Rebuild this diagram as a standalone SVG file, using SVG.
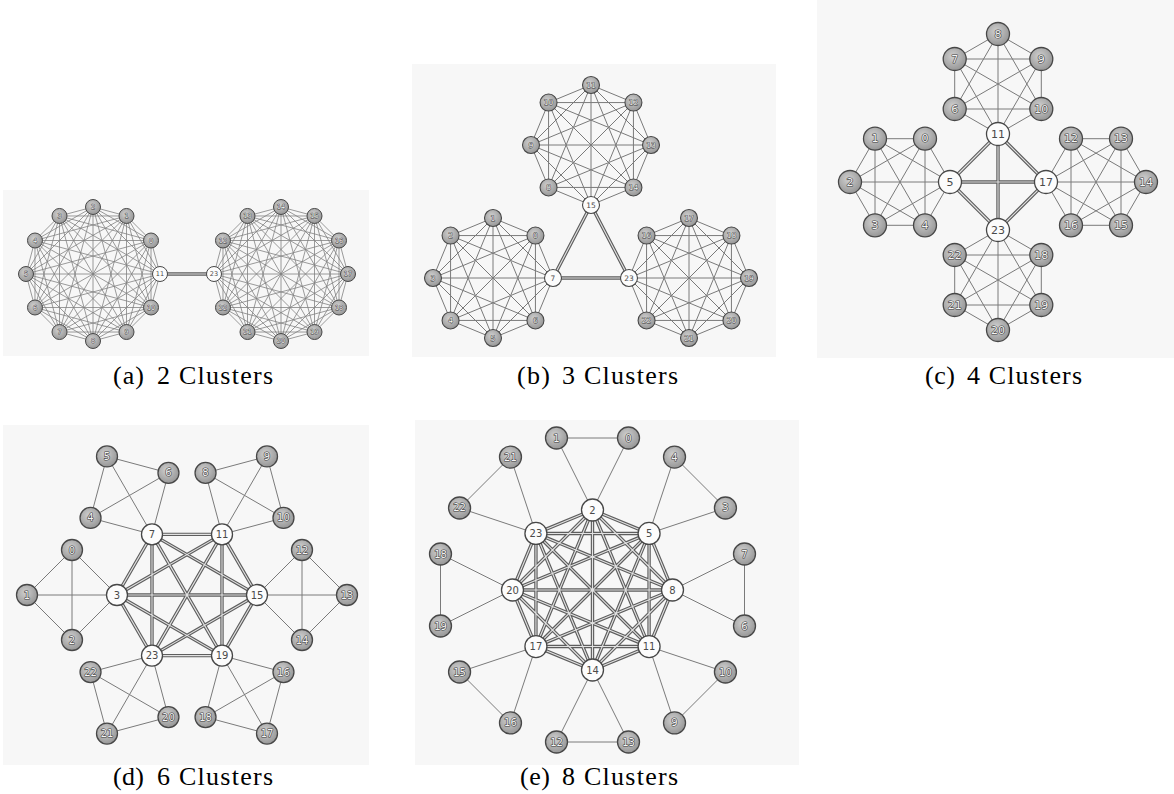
<svg xmlns="http://www.w3.org/2000/svg" xmlns:xlink="http://www.w3.org/1999/xlink" width="1174" height="794" viewBox="0 0 1174 794">
<style>
.bg{fill:#f7f7f7}
.e{fill:none;stroke:#7a7a7a;stroke-width:1}
.ea{fill:none;stroke:#828282;stroke-width:0.8}
.t1{fill:none;stroke:#5e5e5e;stroke-width:3.4;stroke-linejoin:round}
.t2{fill:none;stroke:#e2e2e2;stroke-width:1.1;stroke-linejoin:round}
.g circle{fill:url(#gg);stroke:#474747;stroke-width:1.3}
.h circle{fill:#fcfcfc;stroke:#474747;stroke-width:1.3}
.n text{font-family:"DejaVu Sans",sans-serif;text-anchor:middle;dominant-baseline:central}
.g text{fill:#f4f4f4;stroke:#3e3e3e;stroke-width:1.2;paint-order:stroke;stroke-linejoin:round}
.h text{fill:#4a4a4a}
.pa text{font-size:6.5px}
.pa .g text{stroke-width:0.8}
.pa circle{stroke-width:1}
.pb text{font-size:7.5px}
.pb .g text{stroke-width:0.9}
.pb circle{stroke-width:1.1}
.pc text{font-size:11px}
.pd text{font-size:10px}
.pe text{font-size:10px}
.cap{font-family:"Liberation Serif","Times New Roman",serif;font-size:26px;fill:#000}
</style>
<defs>
<radialGradient id="gg" cx="0.42" cy="0.38" r="0.62">
<stop offset="0" stop-color="#cfcfcf"/>
<stop offset="1" stop-color="#979797"/>
</radialGradient>
<path id="k12" d="M67,0 L58.02,-33.5 L33.5,-58.02 L0,-67 L-33.5,-58.02 L-58.02,-33.5 L-67,0 L-58.02,33.5 L-33.5,58.02 L0,67 L33.5,58.02 L58.02,33.5 Z M67,0 L33.5,-58.02 L-33.5,-58.02 L-67,0 L-33.5,58.02 L33.5,58.02 Z M58.02,-33.5 L0,-67 L-58.02,-33.5 L-58.02,33.5 L0,67 L58.02,33.5 Z M67,0 L0,-67 L-67,0 L0,67 Z M58.02,-33.5 L-33.5,-58.02 L-58.02,33.5 L33.5,58.02 Z M33.5,-58.02 L-58.02,-33.5 L-33.5,58.02 L58.02,33.5 Z M67,0 L-33.5,-58.02 L-33.5,58.02 Z M58.02,-33.5 L-58.02,-33.5 L0,67 Z M33.5,-58.02 L-67,0 L33.5,58.02 Z M0,-67 L-58.02,33.5 L58.02,33.5 Z M67,0 L-58.02,-33.5 L33.5,58.02 L0,-67 L-33.5,58.02 L58.02,-33.5 L-67,0 L58.02,33.5 L-33.5,-58.02 L0,67 L33.5,-58.02 L-58.02,33.5 Z M67,0 L-67,0 M58.02,-33.5 L-58.02,33.5 M33.5,-58.02 L-33.5,58.02 M0,-67 L0,67 M-33.5,-58.02 L33.5,58.02 M-58.02,-33.5 L58.02,33.5"/>
<path id="k8b" d="M60,0 L42.43,-42.43 L0,-60 L-42.43,-42.43 L-60,0 L-42.43,42.43 L0,60 L42.43,42.43 Z M60,0 L0,-60 L-60,0 L0,60 Z M42.43,-42.43 L-42.43,-42.43 L-42.43,42.43 L42.43,42.43 Z M60,0 L-42.43,-42.43 L0,60 L42.43,-42.43 L-60,0 L42.43,42.43 L0,-60 L-42.43,42.43 Z M60,0 L-60,0 M42.43,-42.43 L-42.43,42.43 M0,-60 L0,60 M-42.43,-42.43 L42.43,42.43"/>
<path id="k8e" d="M80,0 L56.57,-56.57 L0,-80 L-56.57,-56.57 L-80,0 L-56.57,56.57 L0,80 L56.57,56.57 Z M80,0 L0,-80 L-80,0 L0,80 Z M56.57,-56.57 L-56.57,-56.57 L-56.57,56.57 L56.57,56.57 Z M80,0 L-56.57,-56.57 L0,80 L56.57,-56.57 L-80,0 L56.57,56.57 L0,-80 L-56.57,56.57 Z M80,0 L-80,0 M56.57,-56.57 L-56.57,56.57 M0,-80 L0,80 M-56.57,-56.57 L56.57,56.57"/>
<path id="k6v" d="M0,-50 L43.3,-25 L43.3,25 L0,50 L-43.3,25 L-43.3,-25 Z M0,-50 L43.3,25 L-43.3,25 Z M43.3,-25 L0,50 L-43.3,-25 Z M0,-50 L0,50 M43.3,-25 L-43.3,25 M43.3,25 L-43.3,-25"/>
<path id="k6h" d="M50,0 L25,43.3 L-25,43.3 L-50,0 L-25,-43.3 L25,-43.3 Z M50,0 L-25,43.3 L-25,-43.3 Z M25,43.3 L-50,0 L25,-43.3 Z M50,0 L-50,0 M25,43.3 L-25,-43.3 M-25,43.3 L25,-43.3"/>
<path id="hubA" d="M160,274 L214,274"/>
<path id="hubB" d="M553,278 L591,205 L629,278 Z"/>
<path id="hubC" d="M950,182 L998,134 L1046,182 L998,230 Z M950,182 L1046,182 M998,134 L998,230"/>
<path id="hubD" d="M257,595 L222,534.38 L152,534.38 L117,595 L152,655.62 L222,655.62 Z M257,595 L152,534.38 L152,655.62 Z M222,534.38 L117,595 L222,655.62 Z M257,595 L117,595 M222,534.38 L152,655.62 M152,534.38 L222,655.62"/>
</defs>

<g id="panels">
<rect class="bg" x="3" y="190" width="366" height="166"/>
<rect class="bg" x="412" y="64" width="364" height="293"/>
<rect class="bg" x="817" y="0" width="357" height="358"/>
<rect class="bg" x="3" y="425" width="366" height="340"/>
<rect class="bg" x="415" y="420" width="384" height="345"/>
</g>

<g id="connectors">
<use href="#k12" x="93" y="274" class="ea"/>
<use href="#k12" x="281" y="274" class="ea"/>
<use href="#hubA" class="t1"/><use href="#hubA" class="t2"/>
<use href="#k8b" x="591" y="145" class="e"/>
<use href="#k8b" x="493" y="278" class="e"/>
<use href="#k8b" x="689" y="278" class="e"/>
<use href="#hubB" class="t1"/><use href="#hubB" class="t2"/>
<use href="#k6v" x="998" y="84" class="e"/>
<use href="#k6v" x="998" y="280" class="e"/>
<use href="#k6h" x="900" y="182" class="e"/>
<use href="#k6h" x="1096" y="182" class="e"/>
<use href="#hubC" class="t1"/><use href="#hubC" class="t2"/>
<path class="e" d="M117,595 L72,550 L27,595 L72,640 Z M117,595 L27,595 M72,550 L72,640 M152,534.38 L90.53,517.91 L107,456.44 L168.47,472.91 Z M152,534.38 L107,456.44 M90.53,517.91 L168.47,472.91 M222,534.38 L205.53,472.91 L267,456.44 L283.47,517.91 Z M222,534.38 L267,456.44 M205.53,472.91 L283.47,517.91 M257,595 L302,550 L347,595 L302,640 Z M257,595 L347,595 M302,550 L302,640 M222,655.62 L283.47,672.09 L267,733.56 L205.53,717.09 Z M222,655.62 L267,733.56 M283.47,672.09 L205.53,717.09 M152,655.62 L168.47,717.09 L107,733.56 L90.53,672.09 Z M152,655.62 L107,733.56 M168.47,717.09 L90.53,672.09"/>
<use href="#hubD" class="t1"/><use href="#hubD" class="t2"/>
<path class="e" d="M592.5,510 L556.5,438 L628.5,438 Z M649.07,533.43 L674.52,457.06 L725.44,507.98 Z M672.5,590 L744.5,554 L744.5,626 Z M649.07,646.57 L725.44,672.02 L674.52,722.94 Z M592.5,670 L628.5,742 L556.5,742 Z M535.93,646.57 L510.48,722.94 L459.56,672.02 Z M512.5,590 L440.5,626 L440.5,554 Z M535.93,533.43 L459.56,507.98 L510.48,457.06 Z"/>
<use href="#k8e" x="592.5" y="590" class="t1"/>
<use href="#k8e" x="592.5" y="590" class="t2"/>
</g>

<g id="nodes-a" class="pa">
<g id="a0" class="n g"><circle cx="151.02" cy="240.5" r="7.5"/><text x="151.02" y="240.5">0</text></g>
<g id="a1" class="n g"><circle cx="126.5" cy="215.98" r="7.5"/><text x="126.5" y="215.98">1</text></g>
<g id="a2" class="n g"><circle cx="93" cy="207" r="7.5"/><text x="93" y="207">2</text></g>
<g id="a3" class="n g"><circle cx="59.5" cy="215.98" r="7.5"/><text x="59.5" y="215.98">3</text></g>
<g id="a4" class="n g"><circle cx="34.98" cy="240.5" r="7.5"/><text x="34.98" y="240.5">4</text></g>
<g id="a5" class="n g"><circle cx="26" cy="274" r="7.5"/><text x="26" y="274">5</text></g>
<g id="a6" class="n g"><circle cx="34.98" cy="307.5" r="7.5"/><text x="34.98" y="307.5">6</text></g>
<g id="a7" class="n g"><circle cx="59.5" cy="332.02" r="7.5"/><text x="59.5" y="332.02">7</text></g>
<g id="a8" class="n g"><circle cx="93" cy="341" r="7.5"/><text x="93" y="341">8</text></g>
<g id="a9" class="n g"><circle cx="126.5" cy="332.02" r="7.5"/><text x="126.5" y="332.02">9</text></g>
<g id="a10" class="n g"><circle cx="151.02" cy="307.5" r="7.5"/><text x="151.02" y="307.5">10</text></g>
<g id="a11" class="n h"><circle cx="160" cy="274" r="7.5"/><text x="160" y="274">11</text></g>
<g id="a12" class="n g"><circle cx="222.98" cy="240.5" r="7.5"/><text x="222.98" y="240.5">12</text></g>
<g id="a13" class="n g"><circle cx="247.5" cy="215.98" r="7.5"/><text x="247.5" y="215.98">13</text></g>
<g id="a14" class="n g"><circle cx="281" cy="207" r="7.5"/><text x="281" y="207">14</text></g>
<g id="a15" class="n g"><circle cx="314.5" cy="215.98" r="7.5"/><text x="314.5" y="215.98">15</text></g>
<g id="a16" class="n g"><circle cx="339.02" cy="240.5" r="7.5"/><text x="339.02" y="240.5">16</text></g>
<g id="a17" class="n g"><circle cx="348" cy="274" r="7.5"/><text x="348" y="274">17</text></g>
<g id="a18" class="n g"><circle cx="339.02" cy="307.5" r="7.5"/><text x="339.02" y="307.5">18</text></g>
<g id="a19" class="n g"><circle cx="314.5" cy="332.02" r="7.5"/><text x="314.5" y="332.02">19</text></g>
<g id="a20" class="n g"><circle cx="281" cy="341" r="7.5"/><text x="281" y="341">20</text></g>
<g id="a21" class="n g"><circle cx="247.5" cy="332.02" r="7.5"/><text x="247.5" y="332.02">21</text></g>
<g id="a22" class="n g"><circle cx="222.98" cy="307.5" r="7.5"/><text x="222.98" y="307.5">22</text></g>
<g id="a23" class="n h"><circle cx="214" cy="274" r="7.5"/><text x="214" y="274">23</text></g>
</g>

<g id="nodes-b" class="pb">
<g id="b0" class="n g"><circle cx="535.43" cy="235.57" r="8.5"/><text x="535.43" y="235.57">0</text></g>
<g id="b1" class="n g"><circle cx="493" cy="218" r="8.5"/><text x="493" y="218">1</text></g>
<g id="b2" class="n g"><circle cx="450.57" cy="235.57" r="8.5"/><text x="450.57" y="235.57">2</text></g>
<g id="b3" class="n g"><circle cx="433" cy="278" r="8.5"/><text x="433" y="278">3</text></g>
<g id="b4" class="n g"><circle cx="450.57" cy="320.43" r="8.5"/><text x="450.57" y="320.43">4</text></g>
<g id="b5" class="n g"><circle cx="493" cy="338" r="8.5"/><text x="493" y="338">5</text></g>
<g id="b6" class="n g"><circle cx="535.43" cy="320.43" r="8.5"/><text x="535.43" y="320.43">6</text></g>
<g id="b7" class="n h"><circle cx="553" cy="278" r="8.5"/><text x="553" y="278">7</text></g>
<g id="b8" class="n g"><circle cx="548.57" cy="187.43" r="8.5"/><text x="548.57" y="187.43">8</text></g>
<g id="b9" class="n g"><circle cx="531" cy="145" r="8.5"/><text x="531" y="145">9</text></g>
<g id="b10" class="n g"><circle cx="548.57" cy="102.57" r="8.5"/><text x="548.57" y="102.57">10</text></g>
<g id="b11" class="n g"><circle cx="591" cy="85" r="8.5"/><text x="591" y="85">11</text></g>
<g id="b12" class="n g"><circle cx="633.43" cy="102.57" r="8.5"/><text x="633.43" y="102.57">12</text></g>
<g id="b13" class="n g"><circle cx="651" cy="145" r="8.5"/><text x="651" y="145">13</text></g>
<g id="b14" class="n g"><circle cx="633.43" cy="187.43" r="8.5"/><text x="633.43" y="187.43">14</text></g>
<g id="b15" class="n h"><circle cx="591" cy="205" r="8.5"/><text x="591" y="205">15</text></g>
<g id="b16" class="n g"><circle cx="646.57" cy="235.57" r="8.5"/><text x="646.57" y="235.57">16</text></g>
<g id="b17" class="n g"><circle cx="689" cy="218" r="8.5"/><text x="689" y="218">17</text></g>
<g id="b18" class="n g"><circle cx="731.43" cy="235.57" r="8.5"/><text x="731.43" y="235.57">18</text></g>
<g id="b19" class="n g"><circle cx="749" cy="278" r="8.5"/><text x="749" y="278">19</text></g>
<g id="b20" class="n g"><circle cx="731.43" cy="320.43" r="8.5"/><text x="731.43" y="320.43">20</text></g>
<g id="b21" class="n g"><circle cx="689" cy="338" r="8.5"/><text x="689" y="338">21</text></g>
<g id="b22" class="n g"><circle cx="646.57" cy="320.43" r="8.5"/><text x="646.57" y="320.43">22</text></g>
<g id="b23" class="n h"><circle cx="629" cy="278" r="8.5"/><text x="629" y="278">23</text></g>
</g>

<g id="nodes-c" class="pc">
<g id="c0" class="n g"><circle cx="925" cy="138.7" r="11.5"/><text x="925" y="138.7">0</text></g>
<g id="c1" class="n g"><circle cx="875" cy="138.7" r="11.5"/><text x="875" y="138.7">1</text></g>
<g id="c2" class="n g"><circle cx="850" cy="182" r="11.5"/><text x="850" y="182">2</text></g>
<g id="c3" class="n g"><circle cx="875" cy="225.3" r="11.5"/><text x="875" y="225.3">3</text></g>
<g id="c4" class="n g"><circle cx="925" cy="225.3" r="11.5"/><text x="925" y="225.3">4</text></g>
<g id="c5" class="n h"><circle cx="950" cy="182" r="11.5"/><text x="950" y="182">5</text></g>
<g id="c6" class="n g"><circle cx="954.7" cy="109" r="11.5"/><text x="954.7" y="109">6</text></g>
<g id="c7" class="n g"><circle cx="954.7" cy="59" r="11.5"/><text x="954.7" y="59">7</text></g>
<g id="c8" class="n g"><circle cx="998" cy="34" r="11.5"/><text x="998" y="34">8</text></g>
<g id="c9" class="n g"><circle cx="1041.3" cy="59" r="11.5"/><text x="1041.3" y="59">9</text></g>
<g id="c10" class="n g"><circle cx="1041.3" cy="109" r="11.5"/><text x="1041.3" y="109">10</text></g>
<g id="c11" class="n h"><circle cx="998" cy="134" r="11.5"/><text x="998" y="134">11</text></g>
<g id="c12" class="n g"><circle cx="1071" cy="138.7" r="11.5"/><text x="1071" y="138.7">12</text></g>
<g id="c13" class="n g"><circle cx="1121" cy="138.7" r="11.5"/><text x="1121" y="138.7">13</text></g>
<g id="c14" class="n g"><circle cx="1146" cy="182" r="11.5"/><text x="1146" y="182">14</text></g>
<g id="c15" class="n g"><circle cx="1121" cy="225.3" r="11.5"/><text x="1121" y="225.3">15</text></g>
<g id="c16" class="n g"><circle cx="1071" cy="225.3" r="11.5"/><text x="1071" y="225.3">16</text></g>
<g id="c17" class="n h"><circle cx="1046" cy="182" r="11.5"/><text x="1046" y="182">17</text></g>
<g id="c18" class="n g"><circle cx="1041.3" cy="255" r="11.5"/><text x="1041.3" y="255">18</text></g>
<g id="c19" class="n g"><circle cx="1041.3" cy="305" r="11.5"/><text x="1041.3" y="305">19</text></g>
<g id="c20" class="n g"><circle cx="998" cy="330" r="11.5"/><text x="998" y="330">20</text></g>
<g id="c21" class="n g"><circle cx="954.7" cy="305" r="11.5"/><text x="954.7" y="305">21</text></g>
<g id="c22" class="n g"><circle cx="954.7" cy="255" r="11.5"/><text x="954.7" y="255">22</text></g>
<g id="c23" class="n h"><circle cx="998" cy="230" r="11.5"/><text x="998" y="230">23</text></g>
</g>

<g id="nodes-d" class="pd">
<g id="d0" class="n g"><circle cx="72" cy="550" r="10.5"/><text x="72" y="550">0</text></g>
<g id="d1" class="n g"><circle cx="27" cy="595" r="10.5"/><text x="27" y="595">1</text></g>
<g id="d2" class="n g"><circle cx="72" cy="640" r="10.5"/><text x="72" y="640">2</text></g>
<g id="d3" class="n h"><circle cx="117" cy="595" r="10.5"/><text x="117" y="595">3</text></g>
<g id="d4" class="n g"><circle cx="90.53" cy="517.91" r="10.5"/><text x="90.53" y="517.91">4</text></g>
<g id="d5" class="n g"><circle cx="107" cy="456.44" r="10.5"/><text x="107" y="456.44">5</text></g>
<g id="d6" class="n g"><circle cx="168.47" cy="472.91" r="10.5"/><text x="168.47" y="472.91">6</text></g>
<g id="d7" class="n h"><circle cx="152" cy="534.38" r="10.5"/><text x="152" y="534.38">7</text></g>
<g id="d8" class="n g"><circle cx="205.53" cy="472.91" r="10.5"/><text x="205.53" y="472.91">8</text></g>
<g id="d9" class="n g"><circle cx="267" cy="456.44" r="10.5"/><text x="267" y="456.44">9</text></g>
<g id="d10" class="n g"><circle cx="283.47" cy="517.91" r="10.5"/><text x="283.47" y="517.91">10</text></g>
<g id="d11" class="n h"><circle cx="222" cy="534.38" r="10.5"/><text x="222" y="534.38">11</text></g>
<g id="d12" class="n g"><circle cx="302" cy="550" r="10.5"/><text x="302" y="550">12</text></g>
<g id="d13" class="n g"><circle cx="347" cy="595" r="10.5"/><text x="347" y="595">13</text></g>
<g id="d14" class="n g"><circle cx="302" cy="640" r="10.5"/><text x="302" y="640">14</text></g>
<g id="d15" class="n h"><circle cx="257" cy="595" r="10.5"/><text x="257" y="595">15</text></g>
<g id="d16" class="n g"><circle cx="283.47" cy="672.09" r="10.5"/><text x="283.47" y="672.09">16</text></g>
<g id="d17" class="n g"><circle cx="267" cy="733.56" r="10.5"/><text x="267" y="733.56">17</text></g>
<g id="d18" class="n g"><circle cx="205.53" cy="717.09" r="10.5"/><text x="205.53" y="717.09">18</text></g>
<g id="d19" class="n h"><circle cx="222" cy="655.62" r="10.5"/><text x="222" y="655.62">19</text></g>
<g id="d20" class="n g"><circle cx="168.47" cy="717.09" r="10.5"/><text x="168.47" y="717.09">20</text></g>
<g id="d21" class="n g"><circle cx="107" cy="733.56" r="10.5"/><text x="107" y="733.56">21</text></g>
<g id="d22" class="n g"><circle cx="90.53" cy="672.09" r="10.5"/><text x="90.53" y="672.09">22</text></g>
<g id="d23" class="n h"><circle cx="152" cy="655.62" r="10.5"/><text x="152" y="655.62">23</text></g>
</g>

<g id="nodes-e" class="pe">
<g id="e0" class="n g"><circle cx="628.5" cy="438" r="11"/><text x="628.5" y="438">0</text></g>
<g id="e1" class="n g"><circle cx="556.5" cy="438" r="11"/><text x="556.5" y="438">1</text></g>
<g id="e2" class="n h"><circle cx="592.5" cy="510" r="11"/><text x="592.5" y="510">2</text></g>
<g id="e3" class="n g"><circle cx="725.44" cy="507.98" r="11"/><text x="725.44" y="507.98">3</text></g>
<g id="e4" class="n g"><circle cx="674.52" cy="457.06" r="11"/><text x="674.52" y="457.06">4</text></g>
<g id="e5" class="n h"><circle cx="649.07" cy="533.43" r="11"/><text x="649.07" y="533.43">5</text></g>
<g id="e6" class="n g"><circle cx="744.5" cy="626" r="11"/><text x="744.5" y="626">6</text></g>
<g id="e7" class="n g"><circle cx="744.5" cy="554" r="11"/><text x="744.5" y="554">7</text></g>
<g id="e8" class="n h"><circle cx="672.5" cy="590" r="11"/><text x="672.5" y="590">8</text></g>
<g id="e9" class="n g"><circle cx="674.52" cy="722.94" r="11"/><text x="674.52" y="722.94">9</text></g>
<g id="e10" class="n g"><circle cx="725.44" cy="672.02" r="11"/><text x="725.44" y="672.02">10</text></g>
<g id="e11" class="n h"><circle cx="649.07" cy="646.57" r="11"/><text x="649.07" y="646.57">11</text></g>
<g id="e12" class="n g"><circle cx="556.5" cy="742" r="11"/><text x="556.5" y="742">12</text></g>
<g id="e13" class="n g"><circle cx="628.5" cy="742" r="11"/><text x="628.5" y="742">13</text></g>
<g id="e14" class="n h"><circle cx="592.5" cy="670" r="11"/><text x="592.5" y="670">14</text></g>
<g id="e15" class="n g"><circle cx="459.56" cy="672.02" r="11"/><text x="459.56" y="672.02">15</text></g>
<g id="e16" class="n g"><circle cx="510.48" cy="722.94" r="11"/><text x="510.48" y="722.94">16</text></g>
<g id="e17" class="n h"><circle cx="535.93" cy="646.57" r="11"/><text x="535.93" y="646.57">17</text></g>
<g id="e18" class="n g"><circle cx="440.5" cy="554" r="11"/><text x="440.5" y="554">18</text></g>
<g id="e19" class="n g"><circle cx="440.5" cy="626" r="11"/><text x="440.5" y="626">19</text></g>
<g id="e20" class="n h"><circle cx="512.5" cy="590" r="11"/><text x="512.5" y="590">20</text></g>
<g id="e21" class="n g"><circle cx="510.48" cy="457.06" r="11"/><text x="510.48" y="457.06">21</text></g>
<g id="e22" class="n g"><circle cx="459.56" cy="507.98" r="11"/><text x="459.56" y="507.98">22</text></g>
<g id="e23" class="n h"><circle cx="535.93" cy="533.43" r="11"/><text x="535.93" y="533.43">23</text></g>
</g>

<g id="captions" class="cap">
<text x="113" y="384" textLength="31" lengthAdjust="spacing">(a)</text>
<text x="157" y="384" textLength="116" lengthAdjust="spacing">2 Clusters</text>
<text x="517" y="384" textLength="33" lengthAdjust="spacing">(b)</text>
<text x="562" y="384" textLength="116" lengthAdjust="spacing">3 Clusters</text>
<text x="925" y="384" textLength="30" lengthAdjust="spacing">(c)</text>
<text x="967" y="384" textLength="115" lengthAdjust="spacing">4 Clusters</text>
<text x="113" y="785" textLength="31" lengthAdjust="spacing">(d)</text>
<text x="157" y="785" textLength="116" lengthAdjust="spacing">6 Clusters</text>
<text x="520" y="785" textLength="30" lengthAdjust="spacing">(e)</text>
<text x="562" y="785" textLength="116" lengthAdjust="spacing">8 Clusters</text>
</g>
</svg>
